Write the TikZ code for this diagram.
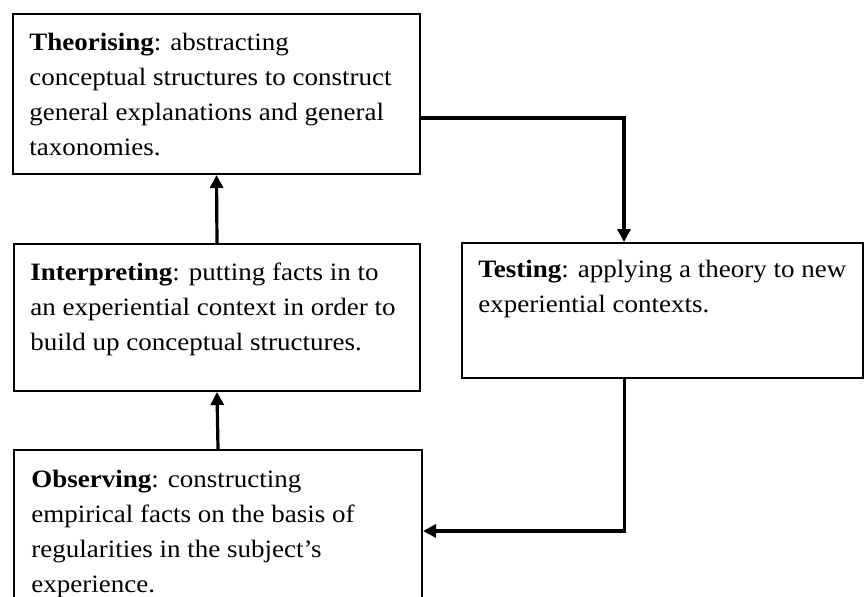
\documentclass[tikz,border=0pt]{standalone}
\usepackage{fontspec}
\setmainfont[FakeStretch=1.08]{Liberation Serif}
\usetikzlibrary{arrows.meta}
\begin{document}
\begin{tikzpicture}[x=0.5pt,y=-0.5pt,
  box/.style={draw=black, line width=1pt, rectangle, inner sep=0pt, anchor=north west},
  txt/.style={anchor=north west, inner sep=0pt, align=left, font=\fontsize{12.5}{17.5}\selectfont},
  arr/.style={draw=black, line width=1.6pt, -{Triangle[width=6.5pt,length=6.5pt]}}]
\useasboundingbox (0,0) rectangle (864,596);
\fill[white] (0,0) rectangle (864,596);
% boxes
\node[box, minimum width=203.5pt, minimum height=80pt] (theo) at (12,13) {};
\node[box, minimum width=203pt, minimum height=73.5pt] (interp) at (13,243) {};
\node[box, minimum width=204pt, minimum height=82pt] (obs) at (13,449) {};
\node[box, minimum width=200.5pt, minimum height=67.5pt] (test) at (461,242) {};
% texts
\node[txt] (theotxt) at ([shift={(8.5pt,-10pt)}]theo.north west)
  {\textbf{Theorising}: abstracting\\ conceptual structures to construct\\ general explanations and general\\ taxonomies.};
\node[txt] (interptxt) at ([shift={(8.5pt,-9.5pt)}]interp.north west)
  {\textbf{Interpreting}: putting facts in to\\ an experiential context in order to\\ build up conceptual structures.};
\node[txt] (testtxt) at ([shift={(8.5pt,-9pt)}]test.north west)
  {\textbf{Testing}: applying a theory to new\\ experiential contexts.};
\node[txt] (obstxt) at ([shift={(9pt,-10.5pt)}]obs.north west)
  {\textbf{Observing}: constructing\\ empirical facts on the basis of\\ regularities in the subject’s\\ experience.};
% connectors
\draw[arr] (interp.north) -- (theo.south);
\draw[arr] (obs.north) -- (interp.south);
\draw[arr] ([yshift=-12pt]theo.east) -| ([xshift=-19.25pt]test.north);
\draw[arr] ([xshift=-19pt]test.south) |- ([yshift=-41pt]obs.north east);
\end{tikzpicture}
\end{document}
